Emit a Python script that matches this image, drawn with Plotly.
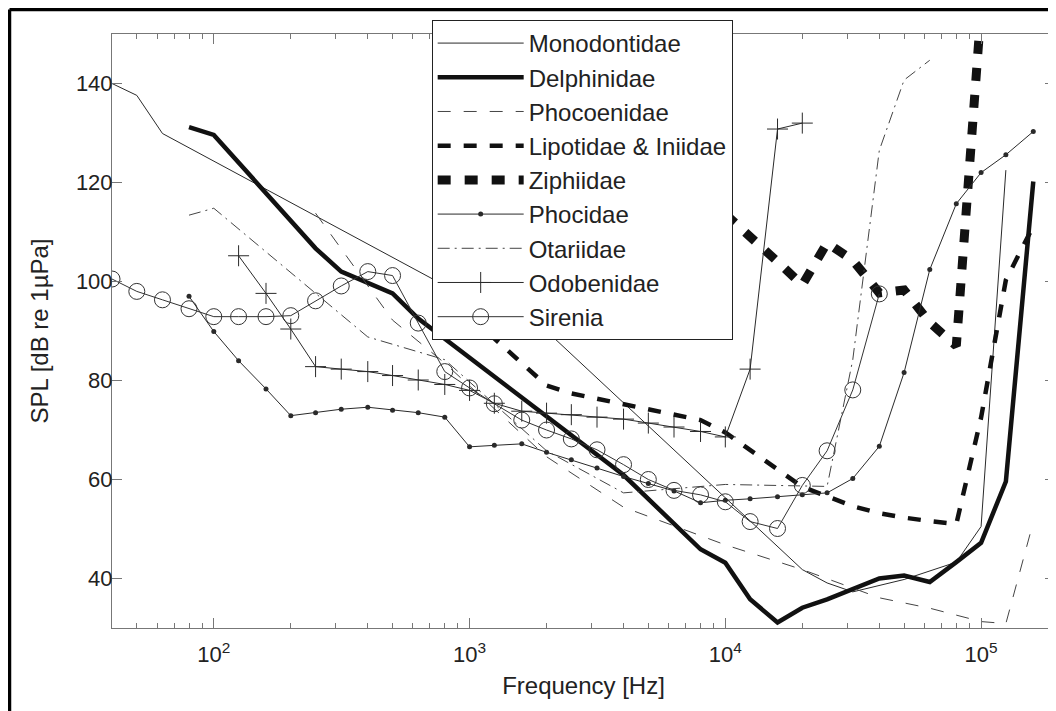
import plotly.graph_objects as go

# ---------------- data ----------------
mono_f = [40, 50, 63, 1000, 2000, 20000, 25000, 31500, 50000, 80000, 100000, 125000]
mono_v = [140.0, 137.6, 129.9, 96.5, 90.0, 41.8, 39.1, 37.3, 39.8, 43.3, 50.5, 122.5]

delph_f = [80, 100, 250, 315, 500, 630, 4000, 8000, 10000, 12500, 16000, 20000,
           25000, 40000, 50000, 63000, 80000, 100000, 125000, 160000]
delph_v = [131.2, 129.6, 106.7, 102.0, 97.6, 92.5, 60.9, 45.9, 43.2, 35.8, 31.1, 34.1,
           35.8, 40.0, 40.6, 39.3, 43.3, 47.2, 59.6, 120.2]

phoco_f = [250, 500, 800, 2000, 4000, 10000, 20000, 40000, 63000, 100000, 125000, 160000]
phoco_v = [113.8, 92.2, 83.5, 64.6, 54.4, 46.8, 41.8, 36.1, 34.0, 31.3, 30.9, 51.4]

lipo_f = [1000, 2000, 2500, 8000, 10000, 16000, 20000, 25000, 31500, 40000, 50000,
          63000, 80000, 100000, 125000, 160000]
lipo_v = [93.0, 79.0, 77.4, 72.0, 69.5, 62.1, 58.5, 56.6, 54.6, 53.2, 52.3,
          51.6, 51.0, 72.5, 100.3, 111.2]

ziph_f = [10000, 12500, 16000, 20000, 25000, 31500, 40000, 50000, 63000, 80000, 100000]
ziph_v = [113.6, 109.2, 104.0, 99.3, 107.8, 104.3, 97.7, 98.3, 91.7, 87.0, 155.0]

phoci_f = [80, 100, 125, 160, 200, 250, 315, 400, 500, 630, 800, 1000, 1250, 1600,
           2000, 2500, 3150, 4000, 5000, 6300, 8000, 10000, 12500, 16000, 20000,
           25000, 31500, 40000, 50000, 63000, 80000, 100000, 125000, 160000]
phoci_v = [97.0, 89.9, 84.0, 78.3, 72.9, 73.5, 74.2, 74.6, 74.0, 73.5, 72.6, 66.6,
           66.9, 67.2, 65.5, 64.0, 62.3, 60.6, 59.2, 57.7, 55.3, 55.8, 56.1, 56.5,
           56.9, 57.3, 60.2, 66.7, 81.6, 102.4, 115.7, 122.0, 125.6, 130.3]

otar_f = [80, 100, 400, 800, 2000, 4000, 10000, 25000, 31500, 40000, 50000, 63000]
otar_v = [113.4, 114.8, 88.8, 84.2, 65.8, 57.3, 59.0, 58.6, 84.2, 126.5, 140.7, 144.7]

odob_f = [125, 160, 200, 250, 315, 400, 500, 630, 800, 1000, 1250, 1600, 2000, 2500,
          3150, 4000, 5000, 6300, 8000, 10000, 12500, 16000, 20000]
odob_v = [105.2, 97.6, 90.4, 82.8, 82.3, 81.8, 81.0, 80.1, 79.2, 78.0, 75.4, 73.8,
          73.4, 73.1, 72.6, 72.2, 71.4, 70.6, 69.7, 68.6, 82.3, 130.8, 132.0]

siren_f = [40, 50, 63, 80, 100, 125, 160, 200, 250, 315, 400, 500, 630, 800, 1000,
           1250, 1600, 2000, 2500, 3150, 4000, 5000, 6300, 8000, 10000, 12500,
           16000, 20000, 25000, 31500, 40000]
siren_v = [100.5, 98.0, 96.3, 94.5, 92.9, 92.9, 92.9, 93.1, 96.1, 99.1, 102.0, 101.2,
           91.6, 81.8, 78.5, 75.3, 72.0, 70.0, 68.2, 66.0, 63.0, 60.0, 57.8, 56.9,
           55.5, 51.5, 50.1, 58.8, 65.8, 78.1, 97.5]

x_major = [100, 1000, 10000, 100000]
x_major_text = ["10<sup>2</sup>", "10<sup>3</sup>", "10<sup>4</sup>", "10<sup>5</sup>"]
x_minor = [m * 10 ** e for e in range(1, 6) for m in range(2, 10)]
y_ticks = [40, 60, 80, 100, 120, 140]

FONT = "Liberation Sans, Arial, Helvetica, sans-serif"
THIN = "#2a2a2a"
THICK = "#111111"

fig = go.Figure()

fig.add_trace(go.Scatter(x=mono_f, y=mono_v, name="Monodontidae", mode="lines",
                         line=dict(color=THIN, width=1)))
fig.add_trace(go.Scatter(x=delph_f, y=delph_v, name="Delphinidae", mode="lines",
                         line=dict(color=THICK, width=4.5)))
fig.add_trace(go.Scatter(x=phoco_f, y=phoco_v, name="Phocoenidae", mode="lines",
                         line=dict(color="#444444", width=1, dash="13px,13px")))
fig.add_trace(go.Scatter(x=lipo_f, y=lipo_v, name="Lipotidae &amp; Iniidae", mode="lines",
                         line=dict(color=THICK, width=4.5, dash="13px,13px")))
fig.add_trace(go.Scatter(x=ziph_f, y=ziph_v, name="Ziphiidae", mode="lines",
                         line=dict(color=THICK, width=9, dash="13px,14px")))
fig.add_trace(go.Scatter(x=phoci_f, y=phoci_v, name="Phocidae", mode="lines+markers",
                         line=dict(color=THIN, width=1),
                         marker=dict(symbol="circle", size=5, color=THIN)))
fig.add_trace(go.Scatter(x=otar_f, y=otar_v, name="Otariidae", mode="lines",
                         line=dict(color="#444444", width=1, dash="12px,5px,2px,5px")))
fig.add_trace(go.Scatter(x=odob_f, y=odob_v, name="Odobenidae", mode="lines+markers",
                         line=dict(color=THIN, width=1),
                         marker=dict(symbol="cross-thin-open", size=15,
                                     line=dict(color=THIN, width=1))))
fig.add_trace(go.Scatter(x=siren_f, y=siren_v, name="Sirenia", mode="lines+markers",
                         line=dict(color="#333333", width=1),
                         marker=dict(symbol="circle-open", size=16, color="#333333",
                                     line=dict(color="#333333", width=1))))

axis_common = dict(
    showgrid=False, zeroline=False, showline=True, linecolor="#777777", linewidth=1,
    mirror="allticks", ticks="inside", tickcolor="#777777", tickwidth=1,
    tickfont=dict(family=FONT, size=22, color="#222222"), automargin=False,
)

fig.update_xaxes(
    type="log", range=[1.602, 5.289],
    tickmode="array", tickvals=x_major, ticktext=x_major_text, ticklen=10,
    ticklabelstandoff=7,
    minor=dict(tickmode="array", tickvals=x_minor, ticks="inside", ticklen=5,
               tickcolor="#777777", tickwidth=1, showgrid=False),
    title=dict(text="Frequency [Hz]", font=dict(family=FONT, size=24, color="#222222"),
               standoff=10),
    **axis_common,
)
fig.update_yaxes(
    range=[30, 150], tickmode="array", tickvals=y_ticks, ticklen=10,
    ticklabelstandoff=-6,
    title=dict(text="SPL [dB re 1µPa]", font=dict(family=FONT, size=24, color="#222222"),
               standoff=20),
    **axis_common,
)

# outer frame of the original figure (left and top borders), kept inside the figure
fig.add_shape(type="line", xref="paper", yref="paper", x0=-0.1087, x1=-0.1087,
              y0=-0.2, y1=1.0412, line=dict(color="black", width=3.5), layer="above")
fig.add_shape(type="line", xref="paper", yref="paper", x0=-0.1087, x1=1.01,
              y0=1.0412, y1=1.0412, line=dict(color="black", width=3.5), layer="above")

# the page body has an 8px margin, so the figure is 8px smaller than the window
fig.update_layout(
    width=1048, height=703,
    margin=dict(l=104, r=1, t=26, b=83),
    paper_bgcolor="white", plot_bgcolor="white",
    font=dict(family=FONT, color="#222222"),
    showlegend=True,
    legend=dict(
        x=0.339, y=1.0236, xanchor="left", yanchor="top",
        bgcolor="white", bordercolor="#222222", borderwidth=1,
        font=dict(family=FONT, size=24, color="#222222"),
        itemwidth=86, tracegroupgap=0,
    ),
)

fig.write_html("out.html")
